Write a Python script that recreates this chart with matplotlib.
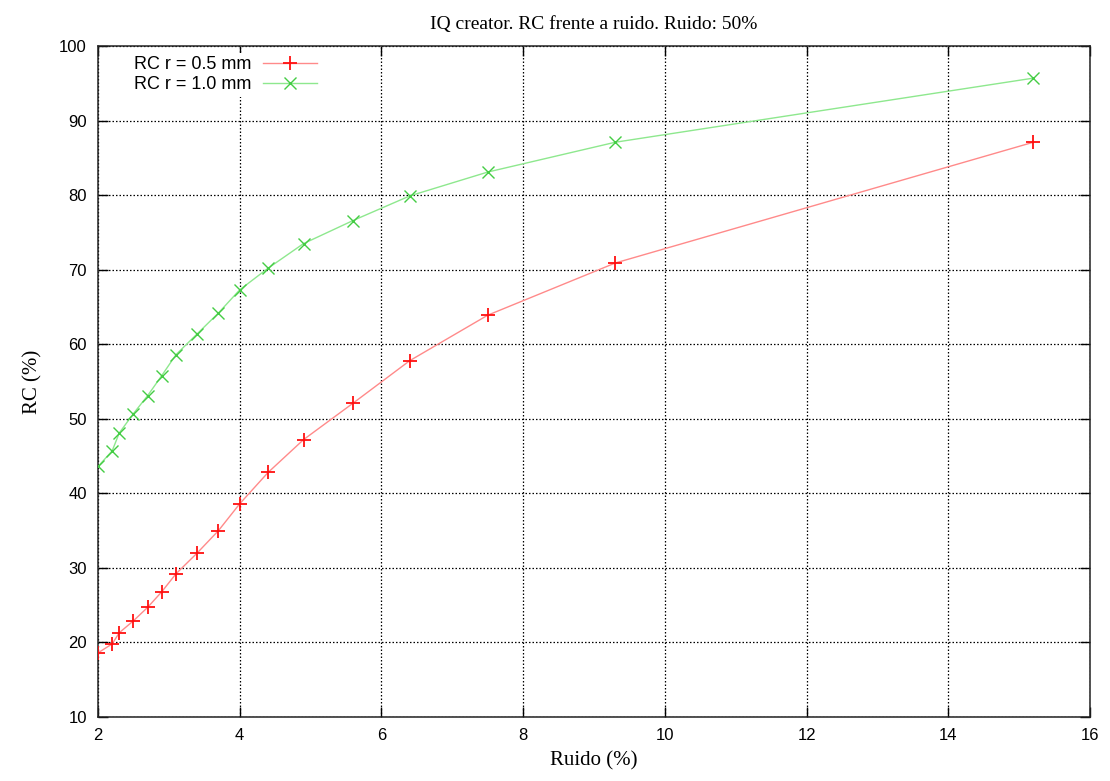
import matplotlib
matplotlib.use("Agg")
import matplotlib.pyplot as plt

# Noise level (%) and recovery coefficient (%) for each rod radius
ruido = [2.0, 2.2, 2.3, 2.5, 2.7, 2.9, 3.1, 3.4, 3.7, 4.0, 4.4, 4.9, 5.6, 6.4, 7.5, 9.3, 15.2]
rc_05 = [18.6, 19.8, 21.3, 22.9, 24.7, 26.8, 29.2, 32.0, 35.0, 38.6, 42.8, 47.2, 52.1, 57.8, 63.9, 70.9, 87.1]
rc_10 = [43.6, 45.7, 48.1, 50.7, 53.1, 55.8, 58.6, 61.4, 64.2, 67.3, 70.2, 73.5, 76.6, 79.9, 83.1, 87.1, 95.7]

x_ticks = [2, 4, 6, 8, 10, 12, 14, 16]
y_ticks = [10, 20, 30, 40, 50, 60, 70, 80, 90, 100]

fig = plt.figure(figsize=(11.1, 7.81), dpi=100)
ax = fig.add_axes([0.0883, 0.082, 0.8937, 0.859])

ax.plot(ruido, rc_05, color="#ff8a8a", lw=1.0, zorder=3)
ax.plot(ruido, rc_05, ls="none", marker="+", ms=10, mew=1.3, color="#ff1010", zorder=4)
ax.plot(ruido, rc_10, color="#8ee88e", lw=1.0, zorder=3)
ax.plot(ruido, rc_10, ls="none", marker="x", ms=8, mew=1.0, color="#44cc44", zorder=4)

# legend handles combining line and marker
h1, = ax.plot([], [], color="#ff8a8a", lw=1.0, marker="+", ms=10, mew=1.3,
              markeredgecolor="#ff1010", label="RC r = 0.5 mm")
h2, = ax.plot([], [], color="#8ee88e", lw=1.0, marker="x", ms=8, mew=1.0,
              markeredgecolor="#44cc44", label="RC r = 1.0 mm")
leg = ax.legend(handles=[h1, h2], loc="upper left", frameon=True, markerfirst=False,
                handlelength=3.0, handletextpad=0.6, borderaxespad=0.0,
                borderpad=0.2, labelspacing=0.15, fancybox=False,
                prop={"family": "Liberation Sans", "size": 13},
                bbox_to_anchor=(0.033, 0.99))
leg.get_frame().set_facecolor("white")
leg.get_frame().set_edgecolor("none")
leg.get_frame().set_alpha(1.0)

ax.set_xlim(2, 16)
ax.set_ylim(10, 100)
ax.set_xticks(x_ticks)
ax.set_yticks(y_ticks)
ax.tick_params(direction="in", length=7, width=1, top=True, right=True,
               labelsize=12, pad=8)
for lab in ax.get_xticklabels() + ax.get_yticklabels():
    lab.set_family(["Liberation Sans Narrow", "Liberation Sans"])

ax.grid(True, color="black", ls=(0, (1.2, 1.6)), lw=0.9)
for s in ax.spines.values():
    s.set_linewidth(1.1)
    s.set_color("#222222")

ax.set_title("IQ creator. RC frente a ruido. Ruido: 50%", family="Liberation Serif",
             fontsize=14, pad=12)
ax.set_xlabel("Ruido (%)", family="Liberation Serif", fontsize=15, labelpad=6)
ax.set_ylabel("RC (%)", family="Liberation Serif", fontsize=15, labelpad=12)

fig.savefig("out.png", dpi=100)
